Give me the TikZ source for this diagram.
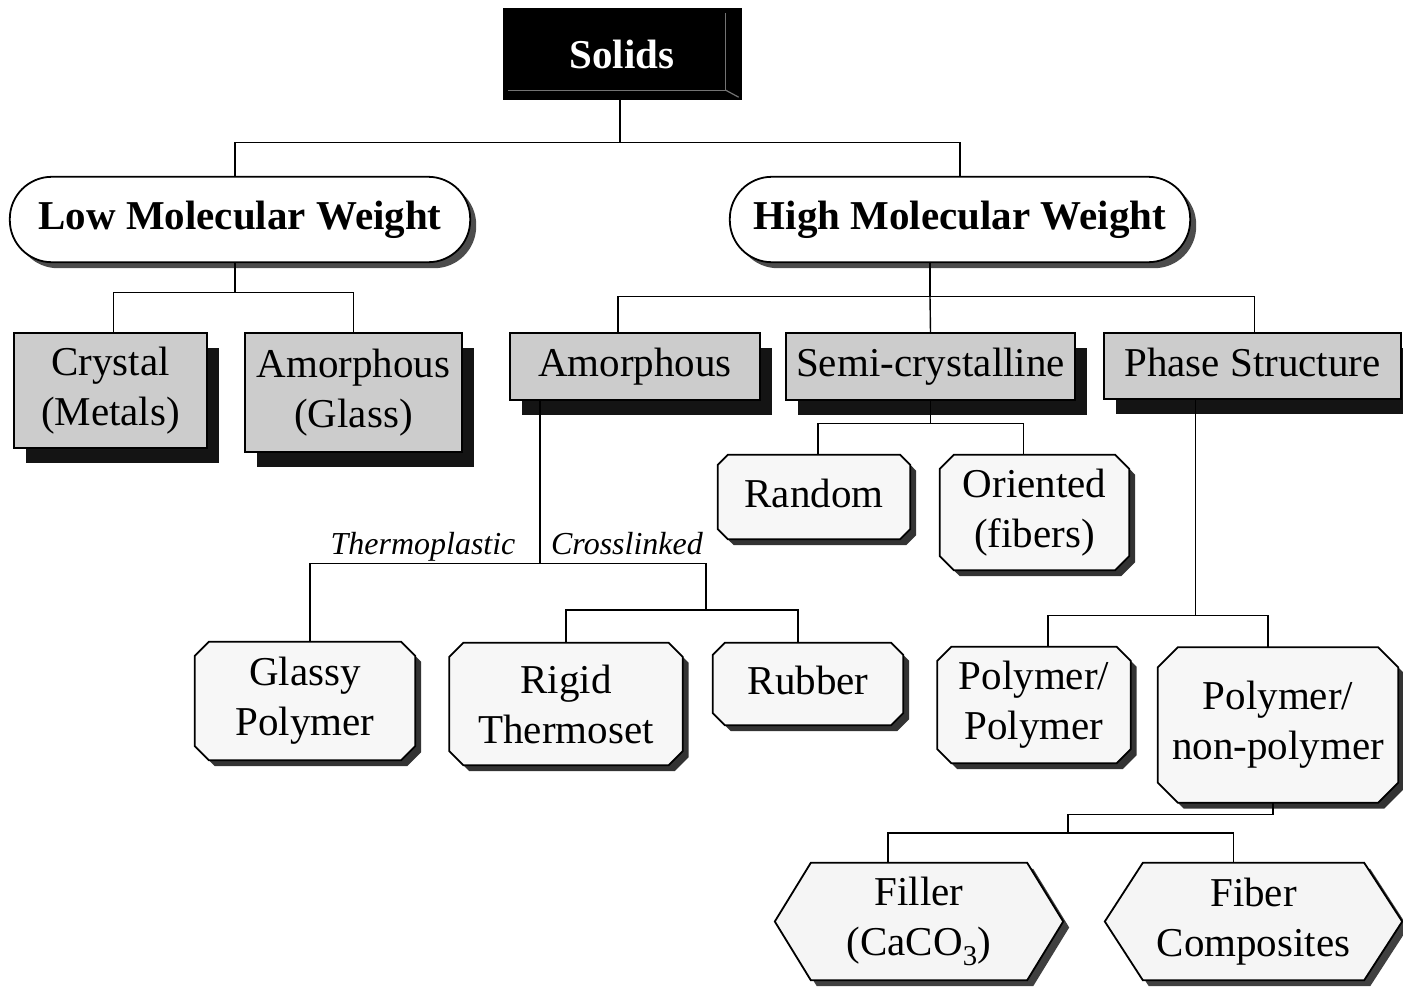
\documentclass[tikz,border=0pt]{standalone}
\usepackage{fontspec}
\setmainfont{Liberation Serif}
\usetikzlibrary{shadows,calc}
\pgfdeclarelayer{background}
\pgfsetlayers{background,main}
\newcommand\mkrect[1]{\draw[rectbox] (#1.north west) rectangle (#1.south east);}
\newcommand\mkpill[1]{\draw[pillbox] (#1.north west) rectangle (#1.south east);}
\newcommand\mkchamf[3]{\draw[chambox,#3] ([xshift=#2]#1.north west) -- ([xshift=-#2]#1.north east) -- ([yshift=-#2]#1.north east) -- ([yshift=#2]#1.south east) -- ([xshift=-#2]#1.south east) -- ([xshift=#2]#1.south west) -- ([yshift=#2]#1.south west) -- ([yshift=-#2]#1.north west) -- cycle;}
\newcommand\mkhex[2]{\draw[hexbox] ([xshift=#2]#1.north west) -- ([xshift=-#2]#1.north east) -- (#1.east) -- ([xshift=-#2]#1.south east) -- ([xshift=#2]#1.south west) -- (#1.west) -- cycle;}
\begin{document}
\begin{tikzpicture}[x=1pt,y=-1pt,
  txt/.style={font=\fontsize{41}{50}\selectfont, align=center, inner sep=0pt},
  one/.style={txt, execute at begin node=\strut},
  bold/.style={txt, font=\fontsize{41}{50}\selectfont\bfseries},
  lab/.style={font=\fontsize{32}{38}\selectfont\itshape, inner sep=0pt, anchor=base},
  conn/.style={draw=black, line width=1.4pt},
  rectbox/.style={draw=black, line width=1.8pt, fill=black!20,
    drop shadow={shadow xshift=12pt, shadow yshift=-15pt, fill=black!92, opacity=1}},
  pillbox/.style={draw=black, line width=1.8pt, fill=white, rounded corners=42pt,
    drop shadow={shadow xshift=6pt, shadow yshift=-6pt, fill=black!70, opacity=1}},
  chambox/.style={draw=black, line width=1.8pt, fill=black!3,
    drop shadow={shadow xshift=6pt, shadow yshift=-6pt, fill=black!80, opacity=1}},
  thinshadow/.style={drop shadow={shadow xshift=3pt, shadow yshift=-3pt, fill=black!80, opacity=1}},
  hexbox/.style={draw=black, line width=1.8pt, fill=black!4,
    drop shadow={shadow xshift=6pt, shadow yshift=-6pt, fill=black!75, opacity=1}},
  bevel/.style={draw=black!55, line width=1.2pt}]
\useasboundingbox (0,0) rectangle (1403,986);

% nodes
\node[bold, minimum width=239pt, minimum height=92pt, fill=black, text=white] (solids) at (622,54) {Solids};
\node[bold, minimum width=460pt, minimum height=85pt] (lowmw) at (240,219.5) {Low Molecular Weight};
\node[bold, minimum width=460pt, minimum height=85pt] (highmw) at (960,219.5) {High Molecular Weight};
\node[txt, minimum width=193pt, minimum height=115pt] (crystal) at (110.5,390.5) {Crystal\\(Metals)};
\node[txt, minimum width=217pt, minimum height=119pt] (glass) at (353.5,392.5) {Amorphous\\(Glass)};
\node[one, minimum width=250pt, minimum height=67pt] (amor) at (635,366.5) {Amorphous};
\node[one, minimum width=289pt, minimum height=67pt] (semi) at (930.5,366.5) {Semi-crystalline};
\node[one, minimum width=297pt, minimum height=66pt] (phase) at (1252.5,366) {Phase Structure};
\node[one, minimum width=192pt, minimum height=84pt] (random) at (814,497) {Random};
\node[txt, minimum width=189pt, minimum height=115pt] (oriented) at (1034.5,512.5) {Oriented\\(fibers)};
\node[lab] (thermo) at (423,554) {Thermoplastic};
\node[lab] (cross) at (627,554) {Crosslinked};
\node[txt, minimum width=220pt, minimum height=118pt] (glassy) at (305,701) {Glassy\\Polymer};
\node[txt, minimum width=233pt, minimum height=122pt] (rigid) at (566,704) {Rigid\\Thermoset};
\node[one, minimum width=190pt, minimum height=82pt] (rubber) at (808,684) {Rubber};
\node[txt, minimum width=193pt, minimum height=116pt] (pp) at (1034,705) {Polymer/\\Polymer};
\node[txt, minimum width=240pt, minimum height=155pt] (pnp) at (1278,725) {Polymer/\\non-polymer};
\node[txt, minimum width=288pt, minimum height=117pt] (filler) at (919,921.5) {Filler\\(CaCO\textsubscript{3})};
\node[txt, minimum width=297pt, minimum height=117pt] (fiber) at (1253.5,921.5) {Fiber\\Composites};

% bevel of the dark block
\draw[bevel] ([xshift=-16pt,yshift=-5pt]solids.north east) -- ([xshift=-16pt,yshift=10pt]solids.south east) -- ([xshift=6pt,yshift=10pt]solids.south west);
\draw[bevel] ([xshift=-16pt,yshift=10pt]solids.south east) -- ([xshift=-3pt,yshift=3pt]solids.south east);

% outlines
\begin{pgfonlayer}{background}
\mkpill{lowmw}
\mkpill{highmw}
\mkrect{crystal}
\mkrect{glass}
\mkrect{amor}
\mkrect{semi}
\mkrect{phase}
\mkchamf{random}{10pt}{thinshadow}
\mkchamf{oriented}{14pt}{thinshadow}
\mkchamf{glassy}{14pt}{}
\mkchamf{rigid}{14pt}{}
\mkchamf{rubber}{12pt}{}
\mkchamf{pp}{14pt}{}
\mkchamf{pnp}{20pt}{}
\mkhex{filler}{36pt}
\mkhex{fiber}{38pt}
\end{pgfonlayer}

% connectors
\draw[conn] ([xshift=-2pt]solids.south) -- ++(0,42) coordinate (j1);
\draw[conn] ([xshift=-5pt]lowmw.north) |- (j1) -| (highmw.north);
\draw[conn] ([xshift=-5pt]lowmw.south) -- ++(0,30) coordinate (j2);
\draw[conn] ([xshift=3pt]crystal.north) |- (j2) -| (glass.north);
\draw[conn] ([xshift=-30pt]highmw.south) -- ++(0,34) coordinate (j3);
\draw[conn] ([xshift=-17pt]amor.north) |- (j3) -| ([xshift=2pt]phase.north);
\draw[conn] (j3) -- (semi.north);
\draw[conn] (semi.south) -- ++(0,23) coordinate (j4);
\draw[conn] ([xshift=4pt]random.north) |- (j4) -| ([xshift=-11pt]oriented.north);
\draw[conn] ([xshift=-95pt]amor.south) -- ++(0,163) coordinate (j5);
\coordinate (j6) at (706,610);
\draw[conn] ([xshift=5pt]glassy.north) |- (j5) -| (j6);
\draw[conn] (rigid.north) |- (j6) -| ([xshift=-10pt]rubber.north);
\draw[conn] ([xshift=-57pt]phase.south) -- ++(0,216) coordinate (j7);
\draw[conn] ([xshift=14pt]pp.north) |- (j7) -| ([xshift=-10pt]pnp.north);
\draw[conn] ([xshift=-5pt]pnp.south) -- ++(0,12) coordinate (j8);
\coordinate (j9) at (1068,833);
\draw[conn] (j8) -| (j9);
\draw[conn] ([xshift=-31pt]filler.north) |- (j9) -| ([xshift=-20pt]fiber.north);
\end{tikzpicture}
\end{document}
